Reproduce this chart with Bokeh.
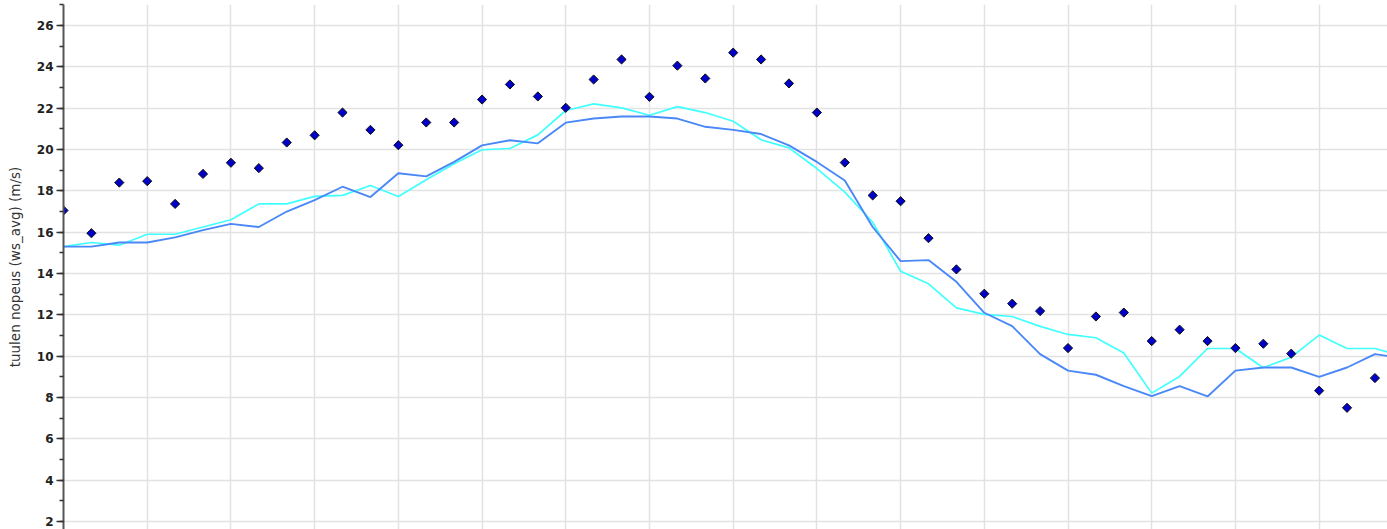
import math
from bokeh.plotting import figure
from bokeh.models import SingleIntervalTicker, Range1d
from bokeh.embed import file_html
from bokeh.resources import INLINE

# hour index (grid every 3 hours)
hours = list(range(49))

observed = [17.05, 15.95, 18.4, 18.47, 17.37, 18.82, 19.36, 19.1, 20.34, 20.69,
            21.79, 20.95, 20.21, 21.31, 21.31, 22.42, 23.15, 22.57, 22.02, 23.39,
            24.36, 22.55, 24.06, 23.44, 24.69, 24.36, 23.2, 21.79, 19.37, 17.78,
            17.5, 15.71, 14.2, 13.02, 12.54, 12.18, 10.39, 11.92, 12.11, 10.73,
            11.28, 10.73, 10.39, 10.6, 10.12, 8.33, 7.5, 8.94]

model_blue = [15.3, 15.3, 15.5, 15.5, 15.75, 16.1, 16.4, 16.25, 17.0, 17.55,
              18.2, 17.7, 18.85, 18.7, 19.4, 20.2, 20.45, 20.3, 21.3, 21.5,
              21.6, 21.6, 21.5, 21.1, 20.95, 20.75, 20.2, 19.4, 18.5, 16.25,
              14.6, 14.65, 13.6, 12.1, 11.45, 10.1, 9.3, 9.1, 8.55, 8.07,
              8.55, 8.05, 9.3, 9.45, 9.45, 9.0, 9.45, 10.1, 9.9]

model_cyan = [15.3, 15.5, 15.37, 15.9, 15.9, 16.25, 16.6, 17.37, 17.37, 17.73,
              17.78, 18.26, 17.73, 18.54, 19.31, 19.99, 20.05, 20.71, 21.89, 22.21,
              22.02, 21.66, 22.08, 21.79, 21.37, 20.47, 20.08, 19.08, 17.94, 16.48,
              14.11, 13.5, 12.34, 12.02, 11.92, 11.44, 11.05, 10.89, 10.15, 8.21,
              9.02, 10.37, 10.37, 9.44, 9.95, 11.02, 10.37, 10.37, 9.98]

p = figure(width=1387, height=529, output_backend="svg", toolbar_location=None,
           x_range=Range1d(0, 47.45), y_range=Range1d(1.61, 27.02),
           min_border_left=63, min_border_right=0, min_border_top=4,
           min_border_bottom=0)
p.outline_line_color = None
p.background_fill_color = "white"

p.line(hours, model_cyan, line_color="#40ffff", line_width=1.7)
p.line(hours, model_blue, line_color="#4a88f8", line_width=1.9)
p.scatter(hours[:len(observed)], observed, marker="square", size=6.5,
          angle=math.pi / 4,
          fill_color="#0000c8", line_color="#111111", line_width=1)

p.xaxis.visible = False
p.xgrid.ticker = SingleIntervalTicker(interval=3)
p.xgrid.grid_line_color = "#e2e2e2"
p.xgrid.grid_line_width = 1.5

yax = p.yaxis[0]
yax.ticker = SingleIntervalTicker(interval=2, num_minor_ticks=2)
yax.axis_line_color = "#555555"
yax.axis_line_width = 2
yax.major_tick_line_color = "#333333"
yax.major_tick_line_width = 1.5
yax.major_tick_out = 7
yax.major_tick_in = 0
yax.minor_tick_line_color = "#333333"
yax.minor_tick_line_width = 1.5
yax.minor_tick_out = 4
yax.minor_tick_in = 0
yax.major_label_text_font = "DejaVu Sans"
yax.major_label_text_font_style = "bold"
yax.major_label_text_font_size = "12px"
yax.major_label_text_color = "#222222"
yax.major_label_standoff = 3
yax.axis_label = "tuulen nopeus (ws_avg) (m/s)"
yax.axis_label_text_font = "DejaVu Sans"
yax.axis_label_text_font_style = "normal"
yax.axis_label_text_font_size = "13.5px"
yax.axis_label_text_color = "#333333"
yax.axis_label_standoff = 11

p.ygrid.ticker = SingleIntervalTicker(interval=2)
p.ygrid.grid_line_color = "#e2e2e2"
p.ygrid.grid_line_width = 1.5

open("out.html", "w").write(file_html(p, INLINE))
